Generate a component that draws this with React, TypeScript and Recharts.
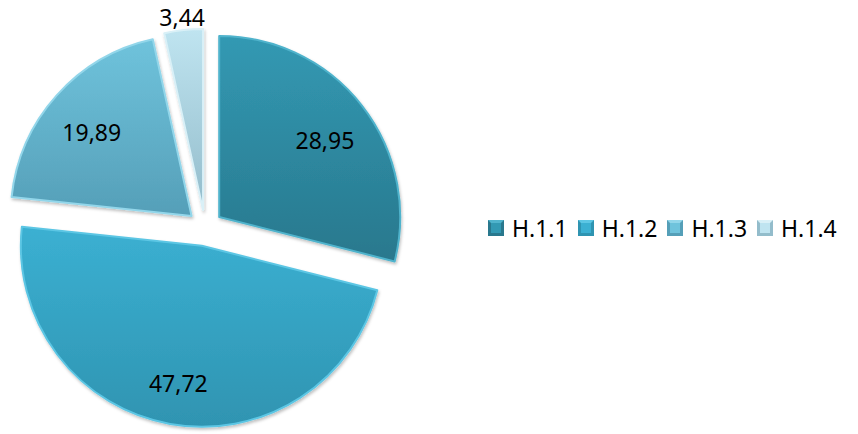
import React from "react";
import { PieChart, Pie, Sector, Legend } from "recharts";

const categories = ["H.1.1", "H.1.2", "H.1.3", "H.1.4"];
const values = [28.95, 47.72, 19.89, 3.44];
const labels = ["28,95", "47,72", "19,89", "3,44"];
const colorsTop = ["#3299b3", "#3bb0d2", "#6fc3dc", "#bfe4f0"];
const colorsBottom = ["#29788d", "#2f94b1", "#559fb8", "#93bccb"];
const rims = ["#4fb3cc", "#5cc6e4", "#92d6ea", "#d9f0f7"];

const data = categories.map((name, i) => ({
  name,
  value: values[i],
  label: labels[i],
  fill: colorsTop[i],
}));

const EXPLODE = 18;
const RAD = Math.PI / 180;

const renderShape = (props: any) => {
  const { cx, cy, innerRadius, outerRadius, startAngle, endAngle, midAngle, index } = props;
  const dx = EXPLODE * Math.cos(-midAngle * RAD);
  const dy = EXPLODE * Math.sin(-midAngle * RAD);
  const id = `pgrad-${index}`;
  return (
    <g>
      <defs>
        <linearGradient id={id} x1="0" y1="0" x2="0" y2="1">
          <stop offset="0%" stopColor={colorsTop[index]} />
          <stop offset="100%" stopColor={colorsBottom[index]} />
        </linearGradient>
        <filter id={`pshadow-${index}`} x="-20%" y="-20%" width="140%" height="140%">
          <feDropShadow dx="1" dy="2" stdDeviation="1.5" floodColor="#000" floodOpacity="0.25" />
        </filter>
      </defs>
      <Sector
        cx={cx + dx}
        cy={cy + dy}
        innerRadius={innerRadius}
        outerRadius={outerRadius}
        startAngle={startAngle}
        endAngle={endAngle}
        fill={`url(#${id})`}
        stroke={rims[index]}
        strokeWidth={2}
        strokeLinejoin="round"
        filter={`url(#pshadow-${index})`}
      />
    </g>
  );
};

const renderLabel = (props: any) => {
  const { cx, cy, midAngle, outerRadius, percent, index } = props;
  const dx = EXPLODE * Math.cos(-midAngle * RAD);
  const dy = EXPLODE * Math.sin(-midAngle * RAD);
  const outside = percent < 0.05;
  const r = outside ? outerRadius + 13 : outerRadius * 0.74;
  const x = cx + dx + r * Math.cos(-midAngle * RAD);
  const y = cy + dy + r * Math.sin(-midAngle * RAD) + (outside ? 0 : 5);
  return (
    <text
      x={x}
      y={y}
      textAnchor="middle"
      dominantBaseline="central"
      fontFamily="Noto Sans"
      fontSize={23}
      fill="#000"
    >
      {data[index].label}
    </text>
  );
};

const LegendMarker = ({ index }: { index: number }) => (
  <svg width={16} height={16} style={{ display: "block" }}>
    <rect x={0} y={0} width={16} height={16} fill={colorsBottom[index]} />
    <polygon points="0,0 16,0 8,8" fill={rims[index]} />
    <polygon points="0,16 16,16 8,8" fill={colorsBottom[index]} opacity={0.9} />
    <rect x={3} y={3} width={10} height={10} fill={colorsTop[index]} />
  </svg>
);

const renderLegend = () => (
  <div style={{ display: "flex", alignItems: "center", fontFamily: "Noto Sans", fontSize: 23, color: "#000" }}>
    {categories.map((c, i) => (
      <div key={c} style={{ display: "flex", alignItems: "center", marginRight: 10 }}>
        <LegendMarker index={i} />
        <span style={{ marginLeft: 8, lineHeight: "26px" }}>{c}</span>
      </div>
    ))}
  </div>
);

export default function App() {
  return (
    <div style={{ position: "absolute", left: 0, top: 0, width: 858, height: 434 }}>
      <PieChart width={858} height={434} margin={{ top: 0, right: 0, bottom: 0, left: 0 }}>
        <Pie
          data={data}
          dataKey="value"
          nameKey="name"
          cx={205}
          cy={228}
          outerRadius={181}
          startAngle={90}
          endAngle={-270}
          shape={renderShape}
          label={renderLabel}
          labelLine={false}
          isAnimationActive={false}
          stroke="none"
        />
        <Legend
          content={renderLegend}
          wrapperStyle={{ position: "absolute", left: 488, top: 215, width: 370 }}
        />
      </PieChart>
    </div>
  );
}
